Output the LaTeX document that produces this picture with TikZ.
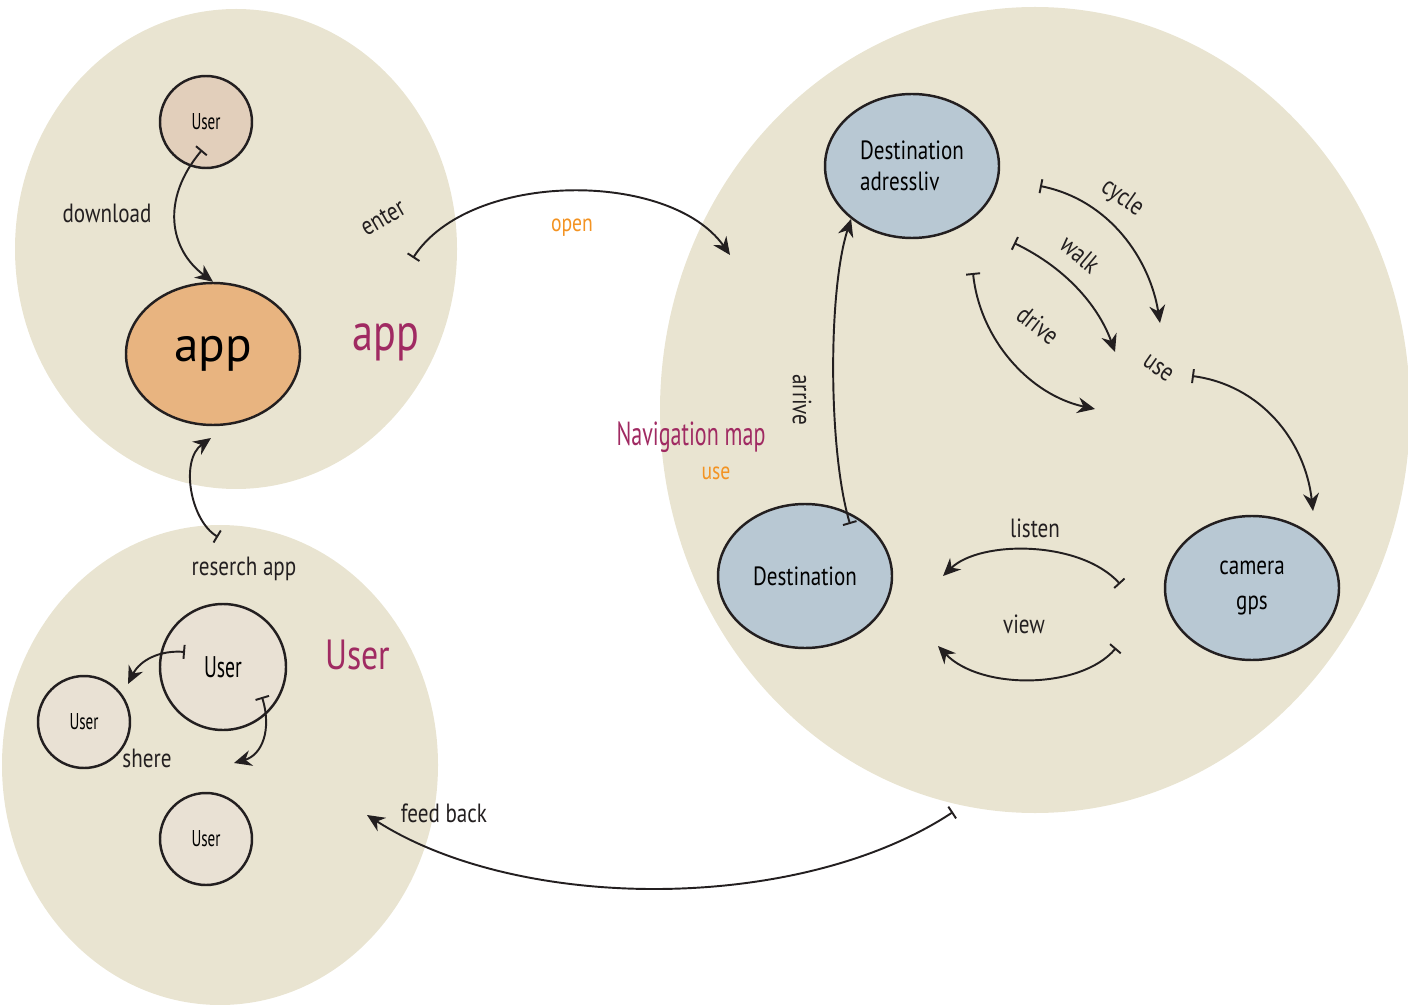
\documentclass[tikz,border=0pt]{standalone}
\usepackage{fontspec}
\setmainfont{PT Sans}
\newfontfamily\narrowfont[FakeStretch=0.8]{PT Sans}
\newfontfamily\tightfont[FakeStretch=0.66]{PT Sans}
\usepackage{tikz}
\usetikzlibrary{arrows.meta, shapes.geometric}
\definecolor{blobbg}{HTML}{E9E4D1}
\definecolor{userA}{HTML}{E2CFBB}
\definecolor{userB}{HTML}{E9E1D4}
\definecolor{appfill}{HTML}{E8B480}
\definecolor{destfill}{HTML}{B8C8D3}
\definecolor{grpM}{HTML}{A02A62}
\definecolor{verbO}{HTML}{F39322}
\definecolor{ink}{HTML}{231F20}

\tikzset{
  blob/.style={fill=blobbg},
  usernode/.style={circle, draw=ink, line width=0.7pt, fill=userB, inner sep=0pt,
    font=\tightfont\fontsize{6.5}{7}\selectfont},
  destnode/.style={ellipse, draw=ink, line width=0.7pt, fill=destfill, inner sep=0pt,
    minimum width=1.74cm, minimum height=1.44cm, font=\narrowfont\fontsize{7.5}{9}\selectfont},
  flow/.style={draw=ink, line width=0.55pt, {Bar[width=4pt]}-{Stealth[length=5pt,width=4.5pt]}},
  lbl/.style={text=ink, inner sep=0pt, font=\narrowfont\fontsize{7.5}{9}\selectfont},
  grplbl/.style={text=grpM, inner sep=0pt, font=\narrowfont\fontsize{9.5}{11}\selectfont},
  verblbl/.style={text=verbO, inner sep=0pt, font=\narrowfont\fontsize{7}{8}\selectfont}
}

\begin{document}
\begin{tikzpicture}[x=0.1mm, y=-0.1mm]
  \useasboundingbox (0,0) rectangle (1408,1004);
  % background groups
  \begin{scope}
    \clip (0,0) rectangle (1408,1004);
    \fill[blob] (236,249) ellipse [x radius=221, y radius=240];
    \fill[blob] (220,765) ellipse [x radius=218, y radius=240];
    \fill[blob] (1035,410) ellipse [x radius=375, y radius=403];
  \end{scope}

  % app group
  \node[usernode, fill=userA, minimum size=0.92cm] (usrtop) at (206,122) {User};
  \node[ellipse, draw=ink, line width=0.7pt, fill=appfill, minimum width=1.74cm, minimum height=1.42cm,
    font=\fontsize{14}{16}\selectfont] (app) at (213,354) {app};
  \node[grplbl, font=\narrowfont\fontsize{15}{17}\selectfont] (appgrp) at (386,342) {app};
  \node[lbl] (download) at (107,213) {download};
  \node[lbl, rotate=30] (enter) at (383,218) {enter};

  % user group
  \node[usernode, minimum size=1.26cm, font=\tightfont\fontsize{8.5}{9}\selectfont] (usrmid) at (223,667) {User};
  \node[usernode, minimum size=0.92cm] (usrleft) at (84,722) {User};
  \node[usernode, minimum size=0.92cm] (usrlow) at (206,839) {User};
  \node[grplbl, font=\narrowfont\fontsize{12}{14}\selectfont] (usrgrp) at (358,655) {User};
  \node[lbl] (research) at (244,569) {reserch app};
  \node[lbl] (shere) at (147,758) {shere};
  \node[lbl] (feedback) at (444,813) {feed back};

  % navigation group
  \node[destnode, align=left] (dstA) at (912,166) {Destination\\adressliv};
  \node[destnode] (dstB) at (805,576) {Destination};
  \node[destnode, align=center, font=\narrowfont\fontsize{7.5}{10}\selectfont] (cam) at (1252,588) {camera\\gps};
  \node[grplbl, font=\tightfont\fontsize{9.5}{11}\selectfont] (navgrp) at (691,437) {Navigation map};
  \node[verblbl] (navuse) at (716,473) {use};
  \node[verblbl] (open) at (572,228) {open};
  \node[lbl, rotate=-90] (arrive) at (802,400) {arrive};
  \node[lbl, rotate=-35] (cycle) at (1122,198) {cycle};
  \node[lbl, rotate=-40] (walk) at (1080,254) {walk};
  \node[lbl, rotate=-38] (drive) at (1038,325) {drive};
  \node[lbl, rotate=-35] (use) at (1158,368) {use};
  \node[lbl] (listen) at (1035,528) {listen};
  \node[lbl] (view) at (1024,624) {view};

  % free ends of the connectors
  \coordinate (dlS) at (202,150);
  \coordinate (rsS) at (218,537);
  \coordinate (rsE) at (211,438);
  \coordinate (opS) at (413,258);
  \coordinate (opE) at (730,255);
  \coordinate (shS1) at (185,652);
  \coordinate (shE1) at (128,684);
  \coordinate (shS2) at (262,697);
  \coordinate (shE2) at (234,763);
  \coordinate (fbS) at (953,812);
  \coordinate (fbE) at (367,815);
  \coordinate (arS) at (850,524);
  \coordinate (cyS) at (1040,186);
  \coordinate (cyE) at (1160,323);
  \coordinate (wkS) at (1014,243);
  \coordinate (wkE) at (1115,352);
  \coordinate (drS) at (973,273);
  \coordinate (drE) at (1095,409);
  \coordinate (usS) at (1192,376);
  \coordinate (usE) at (1313,511);
  \coordinate (lsS) at (1120,584);
  \coordinate (lsE) at (943,576);
  \coordinate (vwS) at (1116,648);
  \coordinate (vwE) at (938,646);

  % connectors
  \draw[flow] (dlS) .. controls (160,200) and (170,250) .. (app.north);
  \draw[flow] (rsS) .. controls (190,520) and (180,460) .. (rsE);
  \draw[flow] (opS) .. controls (470,170) and (670,170) .. (opE);
  \draw[flow] (shS1) .. controls (160,650) and (140,660) .. (shE1);
  \draw[flow] (shS2) .. controls (272,730) and (262,755) .. (shE2);
  \draw[flow] (fbS) .. controls (800,913) and (520,913) .. (fbE);
  \draw[flow] (arS) .. controls (828,450) and (828,290) .. (dstA.221);
  \draw[flow] (cyS) .. controls (1110,200) and (1150,260) .. (cyE);
  \draw[flow] (wkS) .. controls (1070,270) and (1100,310) .. (wkE);
  \draw[flow] (drS) .. controls (980,340) and (1030,395) .. (drE);
  \draw[flow] (usS) .. controls (1260,385) and (1305,440) .. (usE);
  \draw[flow] (lsS) .. controls (1080,540) and (980,540) .. (lsE);
  \draw[flow] (vwS) .. controls (1080,690) and (980,690) .. (vwE);
\end{tikzpicture}
\end{document}
